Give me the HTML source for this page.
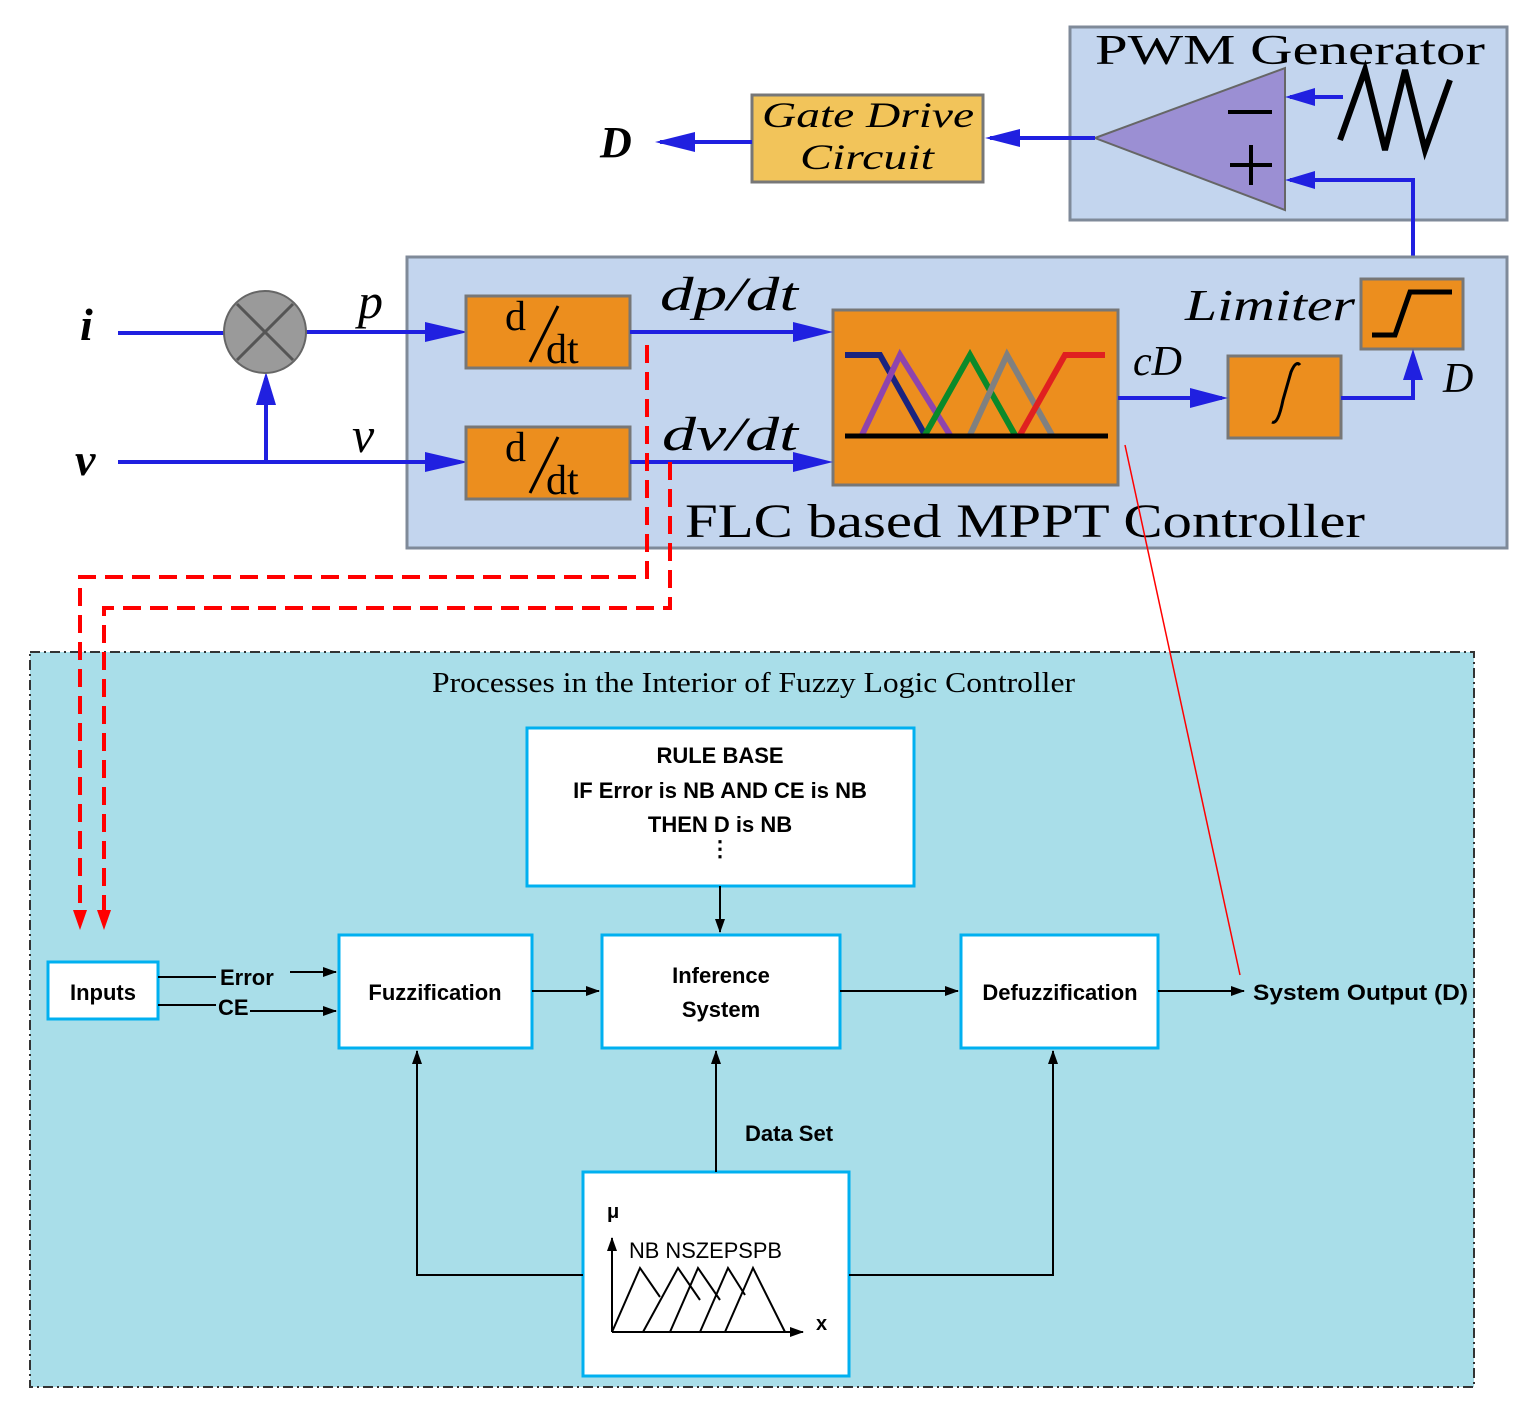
<!DOCTYPE html>
<html><head><meta charset="utf-8"><style>body{margin:0;background:#fff}svg{display:block}</style></head><body>
<svg width="1531" height="1413" viewBox="0 0 1531 1413" xmlns="http://www.w3.org/2000/svg">
<defs>
<marker id="bk" markerWidth="14" markerHeight="10" refX="13" refY="5" orient="auto" markerUnits="userSpaceOnUse"><path d="M0,0 L14,5 L0,10 z" fill="#000"/></marker>
</defs>
<style>
.bl{stroke:#2020e0;stroke-width:4;fill:none}
.it{font-family:"Liberation Serif",serif;font-style:italic}
.sf{font-family:"Liberation Serif",serif}
.sa{font-family:"Liberation Sans",sans-serif;font-weight:bold;font-size:22px}
.cb{fill:#fff;stroke:#00b0f0;stroke-width:3}
</style>
<!-- PWM -->
<rect x="1070" y="27" width="437" height="193" fill="#c3d5ee" stroke="#7f8a99" stroke-width="3"/>
<text x="1095" y="64" class="sf" font-size="42" textLength="390" lengthAdjust="spacingAndGlyphs">PWM Generator</text>
<polygon points="1095,138 1285,68 1285,210" fill="#9b8fd3" stroke="#666" stroke-width="2"/>
<line x1="1228" y1="112" x2="1272" y2="112" stroke="#000" stroke-width="4"/>
<line x1="1230" y1="165" x2="1272" y2="165" stroke="#000" stroke-width="4"/>
<line x1="1251" y1="145" x2="1251" y2="185" stroke="#000" stroke-width="4"/>
<polyline points="1340,140 1365,70 1385,150 1405,70 1425,150 1450,80" fill="none" stroke="#000" stroke-width="6"/>
<path class="bl" d="M1343,97 L1290,97"/><polygon points="1285,97 1315,88 1315,106" fill="#2020e0"/>
<path class="bl" d="M1413,275 L1413,180 L1290,180"/><polygon points="1285,180 1315,171 1315,189" fill="#2020e0"/>
<path class="bl" d="M1095,138 L990,138"/><polygon points="985,138 1020,129 1020,147" fill="#2020e0"/>
<!-- Gate drive -->
<rect x="752" y="95" width="231" height="87" fill="#f2c45a" stroke="#777" stroke-width="3"/>
<text x="762" y="127" class="it" font-size="36" textLength="212" lengthAdjust="spacingAndGlyphs">Gate Drive</text>
<text x="800" y="169" class="it" font-size="36" textLength="134" lengthAdjust="spacingAndGlyphs">Circuit</text>
<path class="bl" d="M752,142 L660,142"/><polygon points="655,142 695,132 695,152" fill="#2020e0"/>
<text x="600" y="157" class="it" font-size="44" font-weight="bold">D</text>
<!-- FLC -->
<rect x="407" y="257" width="1100" height="291" fill="#c3d5ee" stroke="#7f8a99" stroke-width="3"/>
<text x="685" y="537" class="sf" font-size="48" textLength="680" lengthAdjust="spacingAndGlyphs">FLC based MPPT Controller</text>
<text x="80" y="340" class="it" font-size="46" font-weight="bold">i</text>
<text x="75" y="475" class="it" font-size="46" font-weight="bold">v</text>
<path class="bl" d="M118,333 L225,333"/>
<path class="bl" d="M306,332 L460,332"/><polygon points="468,332 425,322 425,342" fill="#2020e0"/>
<path class="bl" d="M118,462 L460,462"/><polygon points="468,462 425,452 425,472" fill="#2020e0"/>
<path class="bl" d="M266,462 L266,378"/><polygon points="266,372 256,405 276,405" fill="#2020e0"/>
<circle cx="265" cy="332" r="41" fill="#9a9a9a" stroke="#666" stroke-width="2"/>
<line x1="237" y1="304" x2="293" y2="360" stroke="#555" stroke-width="3"/><line x1="293" y1="304" x2="237" y2="360" stroke="#555" stroke-width="3"/>
<text x="358" y="318" class="it" font-size="50">p</text>
<text x="352" y="452" class="it" font-size="50">v</text>
<g fill="#ec8e1e" stroke="#777" stroke-width="3">
<rect x="466" y="296" width="164" height="72"/><rect x="466" y="427" width="164" height="72"/>
<rect x="833" y="310" width="285" height="175"/><rect x="1228" y="356" width="113" height="82"/><rect x="1361" y="279" width="102" height="70"/></g>
<text x="505" y="330" class="sf" font-size="42">d</text><text x="546" y="363" class="sf" font-size="42">dt</text><line x1="530" y1="362" x2="558" y2="306" stroke="#000" stroke-width="3"/>
<text x="505" y="461" class="sf" font-size="42">d</text><text x="546" y="494" class="sf" font-size="42">dt</text><line x1="530" y1="493" x2="558" y2="437" stroke="#000" stroke-width="3"/>
<path class="bl" d="M630,332 L825,332"/><polygon points="833,332 793,322 793,342" fill="#2020e0"/>
<path class="bl" d="M630,462 L825,462"/><polygon points="833,462 793,452 793,472" fill="#2020e0"/>
<text x="660" y="310" class="it" font-size="48" textLength="138" lengthAdjust="spacingAndGlyphs">dp/dt</text>
<text x="662" y="450" class="it" font-size="48" textLength="136" lengthAdjust="spacingAndGlyphs">dv/dt</text>
<g fill="none" stroke-width="6">
<polyline points="845,355 880,355 925,435" stroke="#1a237e"/>
<polyline points="862,435 900,355 950,435" stroke="#8e44ad"/>
<polyline points="925,435 970,355 1015,435" stroke="#0a8a2a"/>
<polyline points="970,435 1007,355 1052,435" stroke="#808080"/>
<polyline points="1020,435 1065,355 1105,355" stroke="#e02020"/>
<line x1="845" y1="436" x2="1108" y2="436" stroke="#000" stroke-width="5"/></g>
<path class="bl" d="M1118,398 L1222,398"/><polygon points="1228,398 1190,388 1190,408" fill="#2020e0"/>
<text x="1133" y="375" class="it" font-size="42">cD</text>
<path d="M1272,422 Q1278,425 1283,400 L1291,372 Q1296,360 1300,365" fill="none" stroke="#000" stroke-width="3"/>
<path class="bl" d="M1341,398 L1413,398 L1413,356"/><polygon points="1413,349 1403,380 1423,380" fill="#2020e0"/>
<text x="1443" y="392" class="it" font-size="42">D</text>
<text x="1185" y="320" class="it" font-size="44" textLength="170" lengthAdjust="spacingAndGlyphs">Limiter</text>
<polyline points="1372,335 1395,335 1410,292 1452,292" fill="none" stroke="#000" stroke-width="5"/>
<!-- lower panel -->
<rect x="30" y="652" width="1444" height="735" fill="#a9dee9" stroke="#333" stroke-width="2" stroke-dasharray="10,4,2,4"/>
<text x="432" y="692" class="sf" font-size="28" textLength="643" lengthAdjust="spacingAndGlyphs">Processes in the Interior of Fuzzy Logic Controller</text>
<!-- red dashed -->
<g fill="none" stroke="#f00" stroke-width="4" stroke-dasharray="18,9">
<polyline points="647,345 647,577 80,577 80,915"/>
<polyline points="670,462 670,608 104,608 104,915"/></g>
<polygon points="73,910 87,910 80,930" fill="#f00"/><polygon points="97,910 111,910 104,930" fill="#f00"/>
<line x1="1125" y1="445" x2="1240" y2="975" stroke="#f00" stroke-width="1.5"/>
<!-- boxes -->
<rect class="cb" x="527" y="728" width="387" height="158"/>
<text x="720" y="763" text-anchor="middle" class="sa">RULE BASE</text>
<text x="720" y="798" text-anchor="middle" class="sa">IF Error is NB AND CE is NB</text>
<text x="720" y="832" text-anchor="middle" class="sa">THEN D is NB</text>
<text x="720" y="856" text-anchor="middle" class="sa" font-size="14">⋮</text>
<rect class="cb" x="48" y="962" width="110" height="57"/>
<text x="103" y="1000" text-anchor="middle" class="sa">Inputs</text>
<rect class="cb" x="339" y="935" width="193" height="113"/>
<text x="435" y="1000" text-anchor="middle" class="sa">Fuzzification</text>
<rect class="cb" x="602" y="935" width="238" height="113"/>
<text x="721" y="983" text-anchor="middle" class="sa">Inference</text>
<text x="721" y="1017" text-anchor="middle" class="sa">System</text>
<rect class="cb" x="961" y="935" width="197" height="113"/>
<text x="1060" y="1000" text-anchor="middle" class="sa">Defuzzification</text>
<text x="1253" y="1000" class="sa" textLength="215" lengthAdjust="spacingAndGlyphs">System Output (D)</text>
<text x="220" y="985" class="sa">Error</text>
<text x="218" y="1015" class="sa">CE</text>
<rect class="cb" x="583" y="1172" width="266" height="204"/>
<text x="745" y="1141" class="sa">Data Set</text>
<g stroke="#000" stroke-width="2" fill="none">
<line x1="158" y1="977" x2="216" y2="977"/><line x1="290" y1="972" x2="336" y2="972" marker-end="url(#bk)"/>
<line x1="158" y1="1005" x2="216" y2="1005"/><line x1="250" y1="1011" x2="336" y2="1011" marker-end="url(#bk)"/>
<line x1="532" y1="991" x2="599" y2="991" marker-end="url(#bk)"/>
<line x1="840" y1="991" x2="958" y2="991" marker-end="url(#bk)"/>
<line x1="1158" y1="991" x2="1244" y2="991" marker-end="url(#bk)"/>
<line x1="720" y1="886" x2="720" y2="932" marker-end="url(#bk)"/>
<line x1="716" y1="1172" x2="716" y2="1051" marker-end="url(#bk)"/>
<polyline points="583,1275 417,1275 417,1051" marker-end="url(#bk)"/>
<polyline points="849,1275 1053,1275 1053,1051" marker-end="url(#bk)"/>
<line x1="612" y1="1332" x2="803" y2="1332" marker-end="url(#bk)"/>
<line x1="612" y1="1332" x2="612" y2="1238" marker-end="url(#bk)"/>
<polyline points="612,1332 640,1268 660,1297"/>
<polyline points="643,1332 678,1268 700,1300"/>
<polyline points="670,1332 698,1268 720,1300"/>
<polyline points="700,1332 728,1268 745,1295"/>
<polyline points="725,1332 753,1268 785,1332"/>
</g>
<text x="607" y="1218" font-family="Liberation Sans,sans-serif" font-weight="bold" font-size="20">μ</text>
<text x="629" y="1258" font-family="Liberation Sans,sans-serif" font-size="22" textLength="153" lengthAdjust="spacingAndGlyphs">NB NSZEPSPB</text>
<text x="816" y="1330" font-family="Liberation Sans,sans-serif" font-weight="bold" font-size="20">x</text>
</svg>
</body></html>
